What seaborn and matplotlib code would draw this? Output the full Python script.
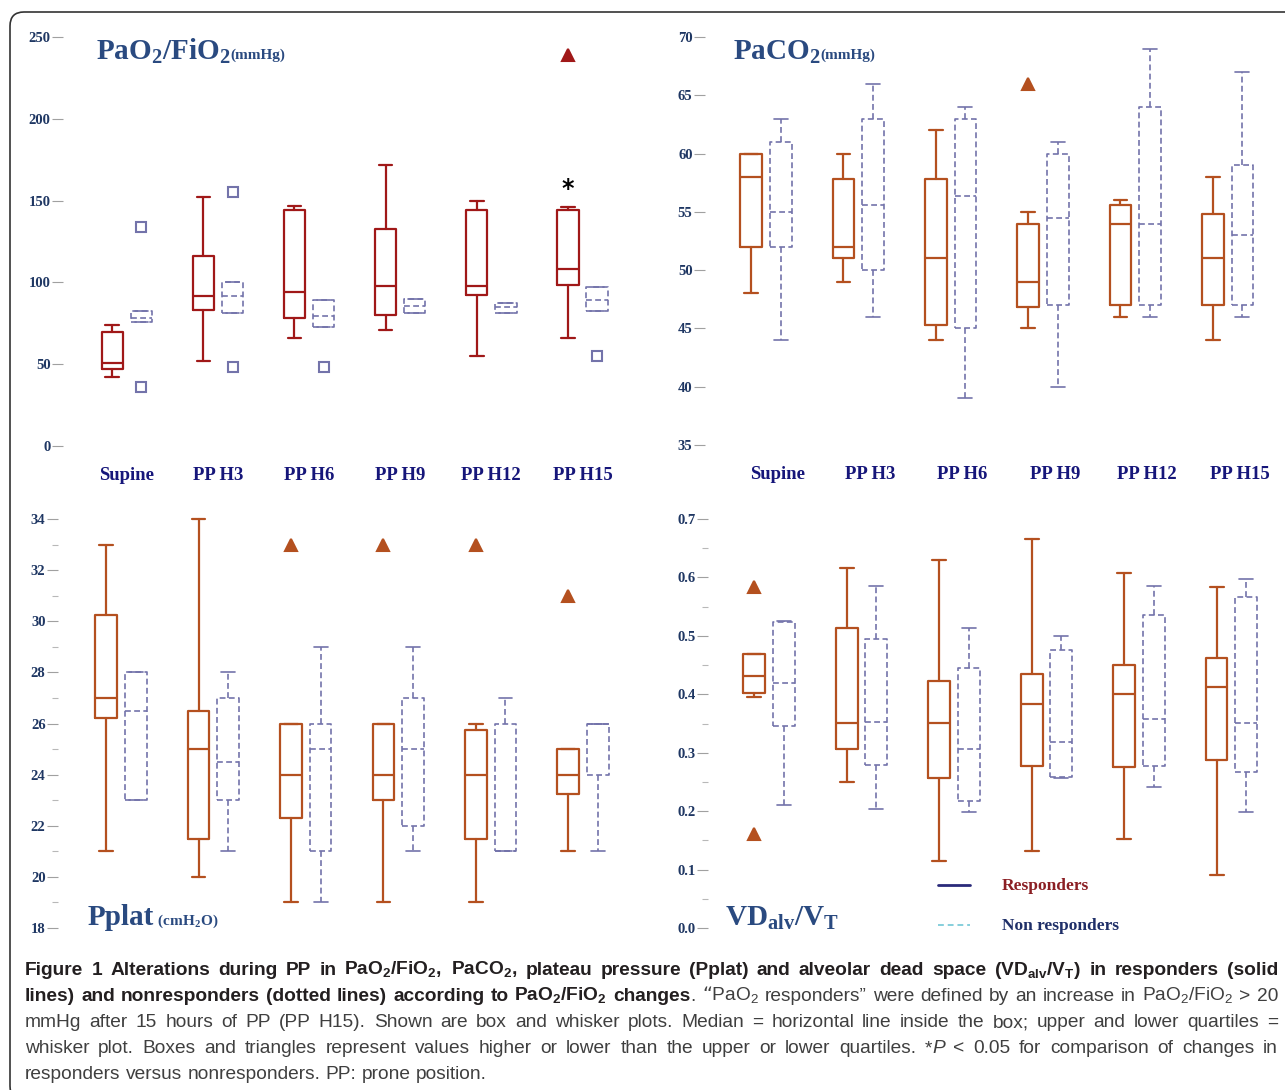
import numpy as np
import matplotlib
matplotlib.use("Agg")
import matplotlib.pyplot as plt
import seaborn as sns
from matplotlib.patches import FancyBboxPatch
from matplotlib.lines import Line2D
from matplotlib import font_manager

W, H = 1285, 1090

categories = ['Supine', 'PP H3', 'PP H6', 'PP H9', 'PP H12', 'PP H15']

# ---- PaO2/FiO2 (mmHg) ----
pao2_r_lo = [42, 52, 66, 71, 55, 66]
pao2_r_q1 = [47, 83, 78, 80, 92.5, 98.5]
pao2_r_med = [51, 91.5, 94, 97.5, 98, 108]
pao2_r_q3 = [69.5, 116, 144, 132.5, 144, 144]
pao2_r_hi = [74, 152, 147, 172, 150, 146]
pao2_r_out = [[], [], [], [], [], [239]]
pao2_n_lo = [75.5, 81.5, 72.5, 81.5, 81.5, 82.5]
pao2_n_q1 = [75.5, 81.5, 72.5, 81.5, 81.5, 82.5]
pao2_n_med = [78.5, 91.5, 79.5, 85.5, 85, 89]
pao2_n_q3 = [82.5, 100, 89, 90, 87.5, 97]
pao2_n_hi = [82.5, 100, 89, 90, 87.5, 97]
pao2_n_out = [[134, 36], [155, 48.5], [48.5], [], [], [55]]

# ---- PaCO2 (mmHg) ----
paco2_r_lo = [48, 49, 44, 45, 46, 44]
paco2_r_q1 = [52, 51, 45.3, 46.8, 47, 47]
paco2_r_med = [58, 52, 51, 49, 54, 51]
paco2_r_q3 = [60, 57.8, 57.8, 54, 55.6, 54.8]
paco2_r_hi = [60, 60, 62, 55, 56, 58]
paco2_r_out = [[], [], [], [66], [], []]
paco2_n_lo = [44, 46, 39, 40, 46, 46]
paco2_n_q1 = [52, 50, 45, 47, 47, 47]
paco2_n_med = [55, 55.6, 56.4, 54.5, 54, 53]
paco2_n_q3 = [61, 63, 63, 60, 64, 59]
paco2_n_hi = [63, 66, 64, 61, 69, 67]
paco2_n_out = [[], [], [], [], [], []]

# ---- Pplat (cmH2O) ----
pplat_r_lo = [21, 20, 19, 19, 19, 21]
pplat_r_q1 = [26.2, 21.5, 22.3, 23, 21.5, 23.25]
pplat_r_med = [27, 25, 24, 24, 24, 24]
pplat_r_q3 = [30.25, 26.5, 26, 26, 25.75, 25]
pplat_r_hi = [33, 34, 26, 26, 26, 25]
pplat_r_out = [[], [], [33], [33], [33], [31]]
pplat_n_lo = [23, 21, 19, 21, 21, 21]
pplat_n_q1 = [23, 23, 21, 22, 21, 24]
pplat_n_med = [26.5, 24.5, 25, 25, 21, 26]
pplat_n_q3 = [28, 27, 26, 27, 26, 26]
pplat_n_hi = [28, 28, 29, 29, 27, 26]
pplat_n_out = [[], [], [], [], [], []]

# ---- VDalv/VT ----
vd_r_lo = [0.396, 0.25, 0.114, 0.132, 0.153, 0.091]
vd_r_q1 = [0.402, 0.307, 0.257, 0.278, 0.276, 0.287]
vd_r_med = [0.432, 0.351, 0.351, 0.383, 0.40, 0.413]
vd_r_q3 = [0.469, 0.513, 0.423, 0.435, 0.45, 0.462]
vd_r_hi = [0.469, 0.616, 0.629, 0.666, 0.607, 0.583]
vd_r_out = [[0.583, 0.161], [], [], [], [], []]
vd_n_lo = [0.21, 0.204, 0.199, 0.256, 0.241, 0.199]
vd_n_q1 = [0.346, 0.279, 0.218, 0.258, 0.277, 0.267]
vd_n_med = [0.42, 0.353, 0.307, 0.319, 0.357, 0.351]
vd_n_q3 = [0.523, 0.494, 0.445, 0.476, 0.536, 0.566]
vd_n_hi = [0.525, 0.586, 0.513, 0.5, 0.586, 0.597]
vd_n_out = [[], [], [], [], [], []]

pao2_ticks = [0, 50, 100, 150, 200, 250]
paco2_ticks = [35, 40, 45, 50, 55, 60, 65, 70]
pplat_ticks = [18, 20, 22, 24, 26, 28, 30, 32, 34]
vd_ticks = [0.0, 0.1, 0.2, 0.3, 0.4, 0.5, 0.6, 0.7]

C_RESP_A = '#a01818'
C_RESP = '#b4501f'
C_NON = '#7373aa'
C_TICK = '#1f3763'
C_TITLE = '#2a4a80'
C_CAT = '#16167a'

sns.set_style("white")
plt.rcParams['font.family'] = ['Liberation Serif', 'DejaVu Serif']
plt.rcParams['axes.unicode_minus'] = False

fig = plt.figure(figsize=(W / 100, H / 100), dpi=100)
renderer = fig.canvas.get_renderer()


def axes_px(left, top, right, bottom):
    ax = fig.add_axes([left / W, 1 - bottom / H, (right - left) / W, (bottom - top) / H])
    ax.patch.set_alpha(0)
    for s in ax.spines.values():
        s.set_visible(False)
    return ax


def make_stats(lo, q1, med, q3, hi, out):
    return [dict(whislo=a, q1=b, med=c, q3=d, whishi=e, fliers=f)
            for a, b, c, d, e, f in zip(lo, q1, med, q3, hi, out)]


def draw_group(ax, stats, offset, color, ls, lw, marker, filled):
    pos = np.arange(len(stats)) + offset
    line = dict(color=color, linewidth=lw, linestyle=ls)
    fp = dict(marker=marker, markersize=8 if marker == '^' else 7,
              markerfacecolor=color if filled else 'none', markeredgecolor=color,
              markeredgewidth=1.5, linestyle='none')
    ax.bxp(stats, positions=pos, widths=0.235, capwidths=0.15,
           boxprops=line, whiskerprops=line,
           capprops=dict(color=color, linewidth=lw, linestyle='-'),
           medianprops=line, flierprops=fp, showfliers=True, manage_ticks=False)


def style_y(ax, ticks, fmt, minor=None):
    ax.set_yticks(ticks)
    ax.set_yticklabels([fmt(v) for v in ticks], fontsize=10.5, fontweight='bold', color=C_TICK)
    ax.tick_params(axis='y', which='major', left=True, length=8, width=0.8, color='#a0a0a0', pad=1)
    if minor is not None:
        ax.set_yticks(minor, minor=True)
        ax.tick_params(axis='y', which='minor', left=True, length=4, width=0.8, color='#b8b8b8')


def style_x(ax, offset):
    ax.set_xticks(np.arange(len(categories)) + offset)
    ax.set_xticklabels(categories, fontsize=13.5, fontweight='bold', color=C_CAT)
    ax.tick_params(axis='x', bottom=True, length=0, pad=15)


# ---------------- Panel A : PaO2/FiO2 ----------------
axA = axes_px(63, 37, 628, 446)
draw_group(axA, make_stats(pao2_r_lo, pao2_r_q1, pao2_r_med, pao2_r_q3, pao2_r_hi, pao2_r_out),
           -0.16, C_RESP_A, '-', 1.6, '^', True)
draw_group(axA, make_stats(pao2_n_lo, pao2_n_q1, pao2_n_med, pao2_n_q3, pao2_n_hi, pao2_n_out),
           0.16, C_NON, (0, (3.5, 2)), 1.2, 's', False)
axA.set_xlim(-0.7, 5.5)
axA.set_ylim(0, 250)
style_y(axA, pao2_ticks, lambda v: f"{v:d}")
style_x(axA, 0.0)
axA.text(5 - 0.16, 157, '*', ha='center', va='center', fontsize=17, fontweight='bold', color='black',
         family='DejaVu Sans')

# ---------------- Panel B : PaCO2 ----------------
axB = axes_px(705, 37, 1283, 445)
draw_group(axB, make_stats(paco2_r_lo, paco2_r_q1, paco2_r_med, paco2_r_q3, paco2_r_hi, paco2_r_out),
           -0.16, C_RESP, '-', 1.6, '^', True)
draw_group(axB, make_stats(paco2_n_lo, paco2_n_q1, paco2_n_med, paco2_n_q3, paco2_n_hi, paco2_n_out),
           0.16, C_NON, (0, (3.5, 2)), 1.2, 's', False)
axB.set_xlim(-0.66, 5.6)
axB.set_ylim(35, 70)
style_y(axB, paco2_ticks, lambda v: f"{v:d}")
style_x(axB, 0.13)

# ---------------- Panel C : Pplat ----------------
axC = axes_px(58, 519, 634, 928)
draw_group(axC, make_stats(pplat_r_lo, pplat_r_q1, pplat_r_med, pplat_r_q3, pplat_r_hi, pplat_r_out),
           -0.16, C_RESP, '-', 1.6, '^', True)
draw_group(axC, make_stats(pplat_n_lo, pplat_n_q1, pplat_n_med, pplat_n_q3, pplat_n_hi, pplat_n_out),
           0.16, C_NON, (0, (3.5, 2)), 1.2, 's', False)
axC.set_xlim(-0.68, 5.55)
axC.set_ylim(18, 34)
style_y(axC, pplat_ticks, lambda v: f"{v:d}", minor=np.arange(19, 34, 2))
axC.set_xticks([])

# ---------------- Panel D : VDalv/VT ----------------
axD = axes_px(708, 519, 1285, 928)
draw_group(axD, make_stats(vd_r_lo, vd_r_q1, vd_r_med, vd_r_q3, vd_r_hi, vd_r_out),
           -0.16, C_RESP, '-', 1.6, '^', True)
draw_group(axD, make_stats(vd_n_lo, vd_n_q1, vd_n_med, vd_n_q3, vd_n_hi, vd_n_out),
           0.16, C_NON, (0, (3.5, 2)), 1.2, 's', False)
axD.set_xlim(-0.66, 5.58)
axD.set_ylim(0, 0.7)
style_y(axD, vd_ticks, lambda v: f"{v:.1f}", minor=np.arange(0.05, 0.7, 0.1))
axD.set_xticks([])

for ax in (axA, axB, axC, axD):
    for art in ax.lines:
        art.set_clip_on(False)


# ---------------- rich text helpers ----------------
def rich_text(x_px, y_px, segs, default):
    x = x_px
    for s, kw in segs:
        props = dict(default)
        props.update(kw)
        t = fig.text(x / W, 1 - y_px / H, s, ha='left', va='baseline', **props)
        x += t.get_window_extent(renderer).width
    return x


title_kw = dict(color=C_TITLE, fontweight='bold', family=['Liberation Serif', 'DejaVu Serif'])
sub2 = r'$_\mathregular{2}$'
rich_text(96, 59, [('PaO' + sub2 + '/FiO' + sub2, dict(fontsize=21)),
                   ('(mmHg)', dict(fontsize=11))], title_kw)
rich_text(733, 59, [('PaCO' + sub2, dict(fontsize=21)),
                    ('(mmHg)', dict(fontsize=11))], title_kw)
rich_text(88, 925, [('Pplat', dict(fontsize=21)),
                    (' (cmH' + sub2 + 'O)', dict(fontsize=11))], title_kw)
rich_text(725, 925, [(r'VD$_\mathregular{alv}$/V$_\mathregular{T}$', dict(fontsize=21))], title_kw)

# legend
fig.add_artist(Line2D([938 / W, 970 / W], [1 - 885 / H, 1 - 885 / H], color='#2a2a7a', lw=2))
fig.add_artist(Line2D([938 / W, 970 / W], [1 - 925 / H, 1 - 925 / H], color='#86cfdc', lw=1.4,
                      linestyle=(0, (3, 2))))
fig.text(1002 / W, 1 - 886 / H, 'Responders', ha='left', va='center', fontsize=12.5,
         fontweight='bold', color='#8b1f24')
fig.text(1002 / W, 1 - 926 / H, 'Non responders', ha='left', va='center', fontsize=12.5,
         fontweight='bold', color='#1f2f68')

# frame
fig.add_artist(FancyBboxPatch((0.10, -0.1), 13.3, 10.88, boxstyle='round,pad=0,rounding_size=0.14',
                              transform=fig.dpi_scale_trans, fill=False, ec='#333333', lw=1.2))

# ---------------- caption ----------------
names = {f.name for f in font_manager.fontManager.ttflist}
cap_family = 'Liberation Sans Narrow' if 'Liberation Sans Narrow' in names else 'Liberation Sans'
B = dict(fontweight='bold', color='#231f20')
N = dict(fontweight='normal', color='#3f3f3f')
I = dict(fontweight='normal', style='italic', color='#3f3f3f')
caption = [
    [('Figure 1 Alterations during PP in PaO' + sub2 + '/FiO' + sub2 + ', PaCO' + sub2 +
      ', plateau pressure (Pplat) and alveolar dead space (VD$_\\mathregular{alv}$/V$_\\mathregular{T}$) in responders (solid', B)],
    [('lines) and nonresponders (dotted lines) according to PaO' + sub2 + '/FiO' + sub2 + ' changes', B),
     ('. \u201cPaO' + sub2 + ' responders\u201d were defined by an increase in PaO' + sub2 + '/FiO' + sub2 + ' > 20', N)],
    [('mmHg after 15 hours of PP (PP H15). Shown are box and whisker plots. Median = horizontal line inside the box; upper and lower quartiles =', N)],
    [('whisker plot. Boxes and triangles represent values higher or lower than the upper or lower quartiles. *', N),
     ('P', I), (' < 0.05 for comparison of changes in', N)],
    [('responders versus nonresponders. PP: prone position.', N)],
]
cap_y = [975, 1001, 1027, 1053, 1079]
X0, X1 = 25, 1278


def tokens_of(segs):
    toks = []
    pending = False
    for s, kw in segs:
        parts = s.split(' ')
        for i, p in enumerate(parts):
            if i > 0:
                pending = True
            if p == '':
                continue
            toks.append((p, kw, pending and len(toks) > 0))
            pending = False
    return toks


def measure(s, kw, size):
    t = fig.text(0, 0, s, family=[cap_family, 'DejaVu Sans'], fontsize=size, **kw)
    w = t.get_window_extent(renderer).width
    t.remove()
    return w


base = 10.0
sp0 = measure('a a', N, base) - measure('aa', N, base)
max_w = 0
for segs in caption[:4]:
    toks = tokens_of(segs)
    w = sum(measure(p, kw, base) for p, kw, _ in toks) + sp0 * sum(1 for t in toks if t[2])
    max_w = max(max_w, w)
size = base * (X1 - X0) / max_w * 0.995
space_w = measure('a a', N, size) - measure('aa', N, size)

for li, segs in enumerate(caption):
    toks = tokens_of(segs)
    texts, widths = [], []
    for p, kw, sp in toks:
        t = fig.text(0, 1 - cap_y[li] / H, p, ha='left', va='baseline',
                     family=[cap_family, 'DejaVu Sans'], fontsize=size, **kw)
        texts.append(t)
        widths.append(t.get_window_extent(renderer).width)
    nsp = sum(1 for t in toks if t[2])
    if li < 4 and nsp > 0:
        gap = max((X1 - X0 - sum(widths)) / nsp, 0.5 * space_w)
    else:
        gap = space_w
    x = X0
    for t, w, tok in zip(texts, widths, toks):
        if tok[2]:
            x += gap
        t.set_x(x / W)
        x += w

fig.savefig('out.png', dpi=100)
